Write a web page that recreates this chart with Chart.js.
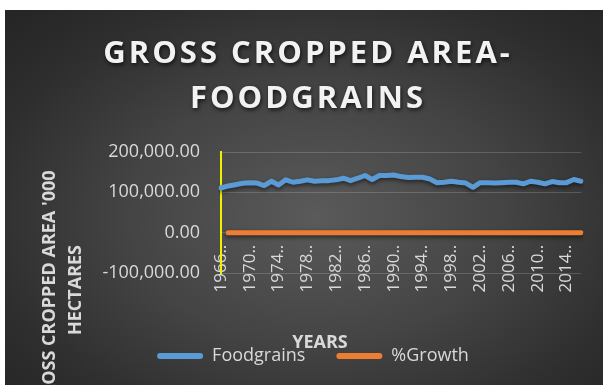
<!DOCTYPE html>
<html>
<head>
<meta charset="utf-8">
<script src="https://cdn.jsdelivr.net/npm/chart.js@4.4.1/dist/chart.umd.min.js"></script>
<style>
  body { margin: 0; background: #fff; }
  #wrap {
    position: absolute; left: 5px; top: 10px; width: 598px; height: 375px;
    background: radial-gradient(ellipse 70% 75% at 52% 55%, #5a5a5a 0%, #444 45%, #2e2e2e 80%, #262626 100%);
  }
</style>
</head>
<body>
<div id="wrap"><canvas id="chart" width="598" height="375"></canvas></div>
<script>
const years = [
  "1966-67", "1967-68", "1968-69", "1969-70", "1970-71", "1971-72", "1972-73", "1973-74",
  "1974-75", "1975-76", "1976-77", "1977-78", "1978-79", "1979-80", "1980-81", "1981-82",
  "1982-83", "1983-84", "1984-85", "1985-86", "1986-87", "1987-88", "1988-89", "1989-90",
  "1990-91", "1991-92", "1992-93", "1993-94", "1994-95", "1995-96", "1996-97", "1997-98",
  "1998-99", "1999-00", "2000-01", "2001-02", "2002-03", "2003-04", "2004-05", "2005-06",
  "2006-07", "2007-08", "2008-09", "2009-10", "2010-11", "2011-12", "2012-13", "2013-14",
  "2014-15", "2015-16", "2016-17"
];

// '000 hectares
const foodgrains = [
  110800, 115800, 119000, 122500, 124000, 123000, 116700, 127500, 118000, 131000,
  125000, 127500, 131000, 127500, 129000, 129000, 131000, 135000, 129000, 135000,
  141700, 131700, 141700, 141700, 143000, 139000, 136700, 137500, 137500, 133000,
  124000, 125000, 127500, 125000, 123000, 112500, 124000, 124000, 123000, 124000,
  125000, 125000, 121000, 127500, 125000, 121000, 126700, 124000, 124000, 131700,
  127500
];

const growth = [
  null, 4.5, 2.8, 2.9, 1.2, -0.8, -5.1, 9.3, -7.5, 11.0,
  -4.6, 2.0, 2.7, -2.7, 1.2, 0, 1.6, 3.1, -4.4, 4.7,
  5.0, -7.1, 7.6, 0, 0.9, -2.8, -1.7, 0.6, 0, -3.3,
  -6.8, 0.8, 2.0, -2.0, -1.6, -8.5, 10.2, 0, -0.8, 0.8,
  0.8, 0, -3.2, 5.4, -2.0, -3.2, 4.7, -2.1, 0, 6.2,
  -3.2
];

const titleLines = ["GROSS CROPPED AREA-", "FOODGRAINS"];
const yTitleLines = ["GROSS CROPPED AREA '000", "HECTARES"];
const xTitle = "YEARS";

const labelColor = "#d9d9d9";

// soft shadow under the two lines, like the office style
const lineShadow = {
  id: "lineShadow",
  beforeDatasetDraw(chart) {
    const ctx = chart.ctx;
    ctx.save();
    ctx.shadowColor = "rgba(0,0,0,0.55)";
    ctx.shadowBlur = 4;
    ctx.shadowOffsetY = 2;
  },
  afterDatasetDraw(chart) {
    chart.ctx.restore();
  }
};

const chartTexts = {
  id: "chartTexts",
  afterDraw(chart) {
    const ctx = chart.ctx;

    ctx.save();
    ctx.font = "bold 31px 'Open Sans'";
    ctx.letterSpacing = "3px";
    ctx.fillStyle = "#f2f2f2";
    ctx.textAlign = "center";
    ctx.textBaseline = "middle";
    ctx.shadowColor = "rgba(0,0,0,0.7)";
    ctx.shadowBlur = 4;
    ctx.shadowOffsetX = 1;
    ctx.shadowOffsetY = 2;
    ctx.fillText(titleLines[0], 303, 44);
    ctx.fillText(titleLines[1], 303, 89);
    ctx.restore();

    ctx.save();
    ctx.font = "bold 18px 'Open Sans'";
    ctx.fillStyle = labelColor;
    ctx.textAlign = "center";
    ctx.textBaseline = "middle";
    ctx.translate(45, 280);
    ctx.rotate(-Math.PI / 2);
    ctx.fillText(yTitleLines[0], 0, 0);
    ctx.fillText(yTitleLines[1], 0, 26);
    ctx.restore();

    ctx.save();
    ctx.font = "bold 18px 'Open Sans'";
    ctx.fillStyle = labelColor;
    ctx.textAlign = "center";
    ctx.textBaseline = "middle";
    ctx.fillText(xTitle, 315, 333);
    ctx.restore();
  }
};

const baseLabels = Chart.defaults.plugins.legend.labels.generateLabels;

new Chart(document.getElementById("chart"), {
  type: "line",
  data: {
    labels: years,
    datasets: [
      {
        label: "Foodgrains",
        data: foodgrains,
        borderColor: "#5b9bd5",
        backgroundColor: "#5b9bd5",
        borderWidth: 5,
        borderCapStyle: "round",
        borderJoinStyle: "round",
        pointRadius: 0,
        tension: 0
      },
      {
        label: "%Growth",
        data: growth,
        borderColor: "#ed7d31",
        backgroundColor: "#ed7d31",
        borderWidth: 5,
        borderCapStyle: "round",
        borderJoinStyle: "round",
        pointRadius: 0,
        tension: 0
      }
    ]
  },
  options: {
    responsive: false,
    devicePixelRatio: 1,
    animation: false,
    layout: { padding: { top: 142, bottom: 10, left: 40, right: 22 } },
    plugins: {
      title: { display: false },
      // empty box that keeps room for the x labels hanging under the zero line
      subtitle: {
        display: true,
        position: "bottom",
        weight: 500,
        text: "",
        padding: 0,
        font: { size: 43, lineHeight: 1 }
      },
      tooltip: { enabled: false },
      legend: {
        position: "bottom",
        labels: {
          color: labelColor,
          font: { family: "'Open Sans'", size: 18 },
          boxWidth: 46,
          boxHeight: 6,
          padding: 31,
          useBorderRadius: true,
          borderRadius: 3,
          generateLabels: (chart) =>
            baseLabels(chart).map((item) => ({ ...item, lineWidth: 0, strokeStyle: "transparent" }))
        }
      }
    },
    scales: {
      x: {
        position: { y: 0 },
        grid: { display: false },
        border: { display: false },
        ticks: {
          autoSkip: false,
          minRotation: 90,
          maxRotation: 90,
          padding: 4,
          color: labelColor,
          font: { family: "'Open Sans'", size: 17 },
          callback: function (value, index) {
            if (index % 4 !== 0) return null;
            return this.getLabelForValue(value).slice(0, 4) + "..";
          }
        }
      },
      y: {
        min: -100000,
        max: 200000,
        afterFit: (scale) => { scale.width = 176; },
        grid: { color: "rgba(255,255,255,0.17)", drawTicks: false },
        border: { color: "#f0f000", width: 2 },
        ticks: {
          stepSize: 100000,
          padding: 21,
          color: labelColor,
          font: { family: "'Open Sans'", size: 18 },
          callback: (v) => v.toLocaleString("en-US", { minimumFractionDigits: 2, maximumFractionDigits: 2 })
        }
      }
    }
  },
  plugins: [lineShadow, chartTexts]
});
</script>
</body>
</html>
